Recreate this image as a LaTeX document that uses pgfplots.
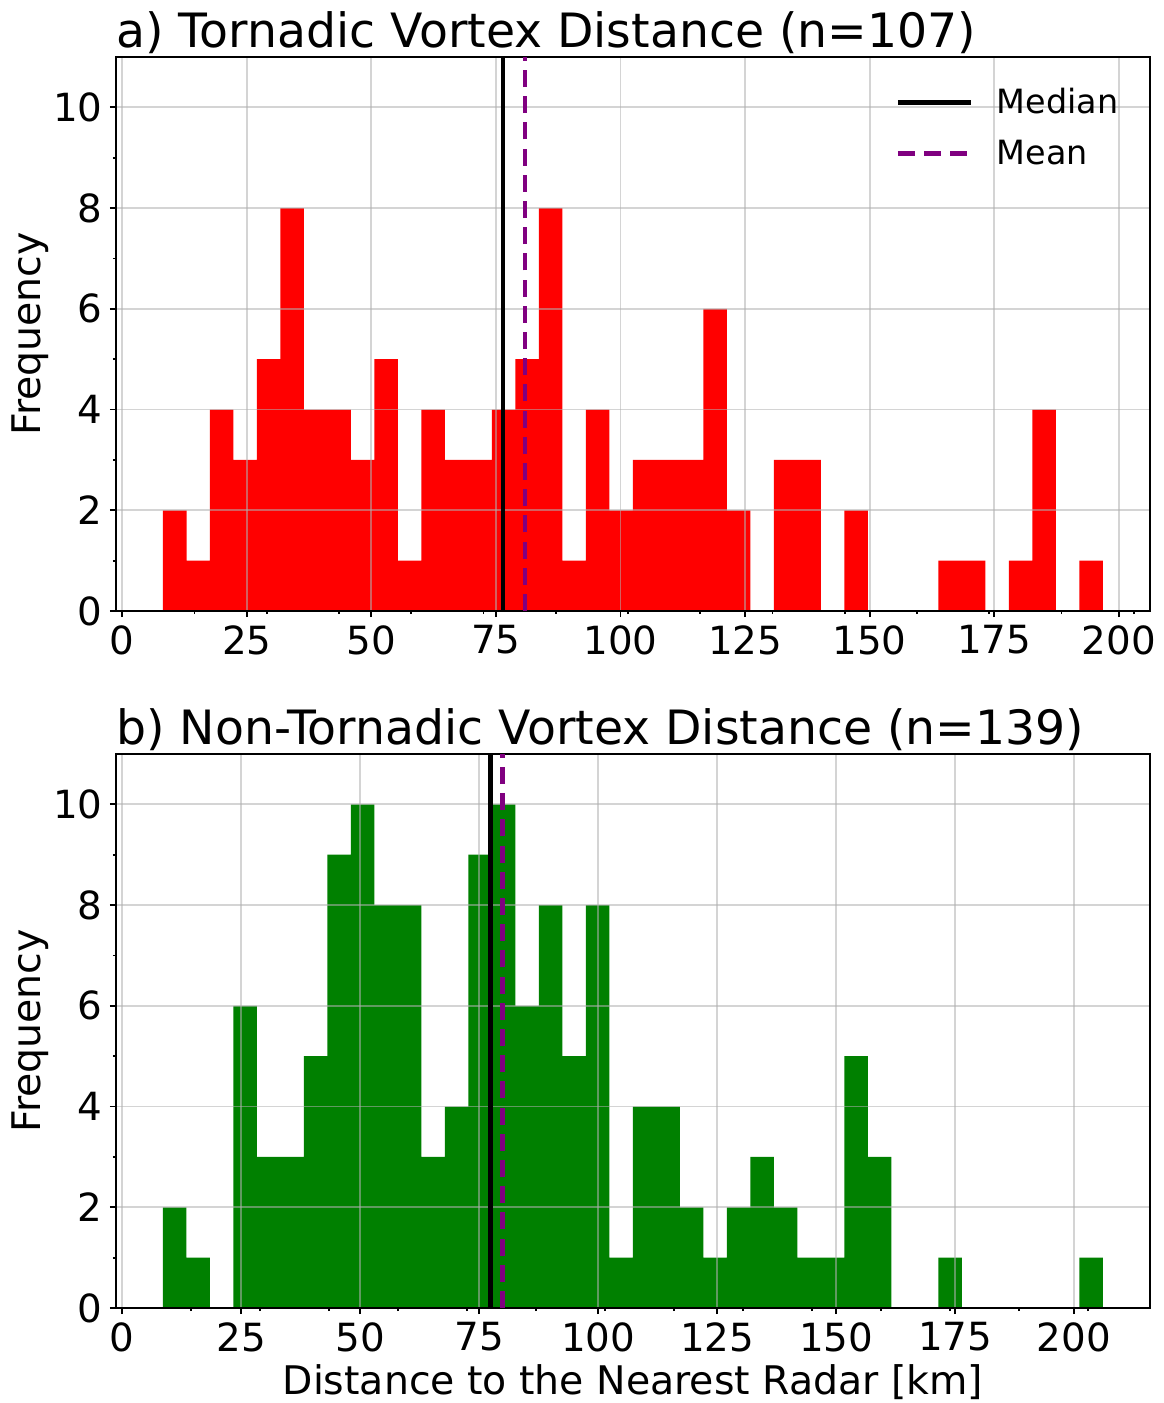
\documentclass[border=0pt]{standalone}
\usepackage{fontspec}
\setmainfont{DejaVu Sans}
\usepackage{pgfplots}
\pgfplotsset{compat=1.18}
\usepackage{pgfplotstable}

\definecolor{histred}{HTML}{FF0000}
\definecolor{histgreen}{HTML}{008000}
\definecolor{meanpurple}{HTML}{800080}
\definecolor{gridgray}{HTML}{B0B0B0}

% Histogram bins: left bin edge and count (last row closes the final bin)
\pgfplotstableread{
edge count
8.18 2
12.90 1
17.61 4
22.33 3
27.04 5
31.76 8
36.47 4
41.19 4
45.90 3
50.62 5
55.34 1
60.05 4
64.77 3
69.48 3
74.20 4
78.91 5
83.63 8
88.34 1
93.06 4
97.77 2
102.49 3
107.21 3
111.92 3
116.64 6
121.35 2
126.07 0
130.78 3
135.50 3
140.21 0
144.93 2
149.65 0
154.36 0
159.08 0
163.79 1
168.51 1
173.22 0
177.94 1
182.65 4
187.37 0
192.08 1
196.80 0
}\tornadic

\pgfplotstableread{
edge count
8.56 2
13.50 1
18.43 0
23.37 6
28.31 3
33.25 3
38.18 5
43.12 9
48.06 10
53.00 8
57.93 8
62.87 3
67.81 4
72.74 9
77.68 10
82.62 6
87.56 8
92.49 5
97.43 8
102.37 1
107.31 4
112.24 4
117.18 2
122.12 1
127.05 2
131.99 3
136.93 2
141.87 1
146.80 1
151.74 5
156.68 3
161.62 0
166.55 0
171.49 1
176.43 0
181.36 0
186.30 0
191.24 0
196.18 0
201.11 1
206.05 0
}\nontornadic

\pgfplotsset{
  histaxis/.style={
    set layers,
    scale only axis,
    width=516.9pt, height=277pt,
    ymin=0, ymax=11,
    xtick={0,25,...,200},
    ytick={0,2,...,10},
    minor ytick={1,3,...,9},
    minor xtick={14.5,29,...,203},
    tick pos=left,
    tick align=outside,
    major tick length=3pt,
    minor tick length=1.6pt,
    every tick/.style={black, line width=0.9pt},
    axis line style={black, line width=0.9pt},
    grid=major,
    major grid style={gridgray, opacity=0.55, line width=0.9pt},
    scaled ticks=false,
    /pgf/number format/assume math mode=true,
    ticklabel style={font=\fontsize{19.4}{23}\selectfont, inner sep=0pt},
    xticklabel style={anchor=north, yshift=-4pt},
    yticklabel style={anchor=east, xshift=-3.5pt},
    every axis y label/.style={at={(axis description cs:-0.1013,0.5)}, rotate=90, anchor=north,
      inner sep=0pt, font=\fontsize{19.7}{23}\selectfont},
    every axis x label/.style={at={(axis description cs:0.5,-0.1005)}, anchor=north,
      inner sep=0pt, font=\fontsize{19.7}{23}\selectfont},
    every axis title/.style={at={(axis description cs:0,1)}, anchor=base west, yshift=5pt,
      inner sep=0pt, font=\fontsize{23.65}{28}\selectfont},
    ylabel={Frequency},
    legend image code/.code={\draw[##1] (0pt,0pt) -- (36.5pt,0pt);},
  },
  medianline/.style={black, line width=2.3pt},
  meanline/.style={meanpurple, line width=2.3pt, dash pattern=on 8.5pt off 4.6pt},
}

\begin{document}
\begin{tikzpicture}

% a) tornadic vortices
\begin{axis}[histaxis,
  at={(0pt,0pt)}, anchor=north west,
  xmin=-1.25, xmax=206.23,
  title={a) Tornadic Vortex Distance (n=107)},
  legend style={draw=none, fill=none, inner sep=0pt, outer sep=0pt,
    at={(axis description cs:0.7542,0.9525)}, anchor=north west,
    font=\fontsize{16.7}{20}\selectfont, row sep=6.7pt, column sep=11.85pt,
    nodes={inner sep=0pt, text height=15pt, text depth=4pt}},
  legend cell align=left,
]
\addplot[ybar interval, fill=histred, draw=none, forget plot, on layer=axis background]
  table[x=edge, y=count] {\tornadic};
\addplot[medianline] coordinates {(76.4,0) (76.4,11)};
\addplot[meanline] coordinates {(80.8,0) (80.8,11)};
\legend{Median, Mean}
\end{axis}

% b) non-tornadic vortices
\begin{axis}[histaxis,
  at={(0pt,-348.5pt)}, anchor=north west,
  xmin=-1.31, xmax=215.93,
  title={b) Non-Tornadic Vortex Distance (n=139)},
  xlabel={Distance to the Nearest Radar [km]},
]
\addplot[ybar interval, fill=histgreen, draw=none, forget plot, on layer=axis background]
  table[x=edge, y=count] {\nontornadic};
\addplot[medianline] coordinates {(77.35,0) (77.35,11)};
\addplot[meanline] coordinates {(79.9,0) (79.9,11)};
\end{axis}

% page extent
\pgfresetboundingbox
\path (-58pt,-673pt) rectangle (523.5pt,28.5pt);
\end{tikzpicture}
\end{document}
